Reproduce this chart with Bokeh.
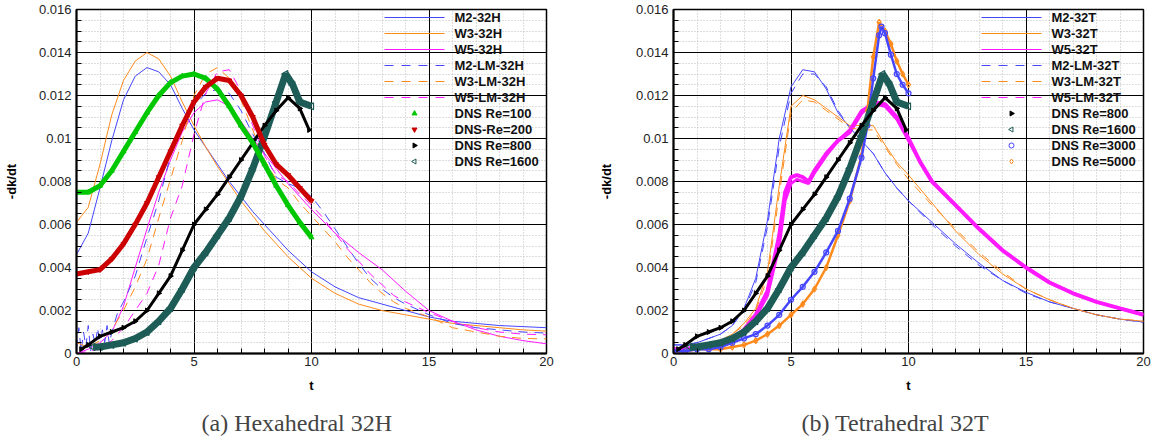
import math
from bokeh.plotting import figure
from bokeh.models import SingleIntervalTicker, PrintfTickFormatter, Title, Range1d
from bokeh.core.properties import value
from bokeh.layouts import row
from bokeh.embed import file_html
from bokeh.resources import INLINE

# ---------------- data : panel (a) Hexahedral 32H ----------------
T_A = [0, 0.5, 1, 1.5, 2, 2.5, 3, 3.5, 4, 4.5, 5, 5.5, 6, 6.5, 7, 7.5, 8, 8.5, 9, 9.5, 10,
       11, 12, 13, 14, 15, 16, 17, 18, 19, 20]
M2_32H = [0.0046, 0.0056, 0.0077, 0.0099, 0.0118, 0.0129, 0.0133, 0.0131, 0.0125, 0.0114, 0.0104,
          0.0096, 0.0088, 0.0080, 0.0073, 0.0066, 0.0060, 0.0054, 0.0048, 0.0043, 0.0038,
          0.0031, 0.0026, 0.0023, 0.0020, 0.0017, 0.0015, 0.0014, 0.0013, 0.00125, 0.0012]
W3_32H = [0.0061, 0.0068, 0.0088, 0.0111, 0.0127, 0.0136, 0.0140, 0.0137, 0.0129, 0.0117, 0.0106,
          0.0096, 0.0087, 0.0079, 0.0071, 0.0064, 0.0057, 0.0051, 0.0045, 0.0040, 0.0035,
          0.0028, 0.0023, 0.0020, 0.0018, 0.0016, 0.0014, 0.0013, 0.0012, 0.0011, 0.00104]
W5_32H = [0.0000, 0.0002, 0.0005, 0.0010, 0.0022, 0.0040, 0.0058, 0.0075, 0.0090, 0.0103, 0.0112,
          0.0117, 0.0118, 0.0115, 0.0108, 0.0100, 0.0093, 0.0086, 0.0079, 0.0073, 0.0067,
          0.0056, 0.0047, 0.0039, 0.0029, 0.0020, 0.0015, 0.0011, 0.0008, 0.0006, 0.00045]

T_M2_LM_H = [0, 0.1, 0.2, 0.3, 0.4, 0.5, 0.6, 0.7, 0.8, 0.9, 1.0, 1.1, 1.2, 1.3, 1.4, 1.5,
             1.75, 2, 2.5, 3, 3.5, 4, 4.5, 5, 5.5, 6, 6.5, 7, 7.5, 8, 8.5, 9, 9.5, 10,
             10.5, 11, 11.5, 12, 12.5, 13, 13.5, 14, 15, 16, 17, 18, 19, 20]
M2_LM_32H = [0.0002, 0.0012, 0.0001, 0.0010, 0.0003, 0.0013, 0.0001, 0.0009, 0.0004, 0.0012,
             0.0002, 0.0011, 0.0005, 0.0013, 0.0004, 0.0010,
             0.0019, 0.0024, 0.0036, 0.0054, 0.0071, 0.0092, 0.0105, 0.0115, 0.0121, 0.0123,
             0.0121, 0.0113, 0.0102, 0.0093, 0.0082, 0.0079, 0.0077, 0.0073,
             0.0066, 0.0058, 0.0050, 0.0042, 0.0035, 0.0030, 0.0026, 0.0023,
             0.0018, 0.0014, 0.0012, 0.0011, 0.0010, 0.00095]
T_LM = [0, 0.5, 1, 1.5, 2, 2.5, 3, 3.5, 4, 4.5, 5, 5.5, 6, 6.5, 7, 7.5, 8, 8.5, 9, 9.5, 10,
        10.5, 11, 11.5, 12, 12.5, 13, 13.5, 14, 15, 16, 17, 18, 19, 20]
W3_LM_32H = [0.0005, 0.0003, 0.0006, 0.0011, 0.0020, 0.0031, 0.0044, 0.0063, 0.0081, 0.0099, 0.0120,
             0.0130, 0.0133, 0.0128, 0.0118, 0.0104, 0.0090, 0.0081, 0.0077, 0.0070, 0.0064,
             0.0058, 0.0052, 0.0045, 0.0039, 0.0033, 0.0028, 0.0024, 0.0021,
             0.0017, 0.0012, 0.0010, 0.0008, 0.0007, 0.00068]
W5_LM_32H = [0.0000, 0.0001, 0.0002, 0.0006, 0.0012, 0.0020, 0.0028, 0.0041, 0.0063, 0.0078, 0.0102,
             0.0121, 0.0131, 0.0132, 0.0122, 0.0106, 0.0092, 0.0083, 0.0080, 0.0074, 0.0069,
             0.0063, 0.0056, 0.0049, 0.0043, 0.0037, 0.0032, 0.0027, 0.0024,
             0.0019, 0.0015, 0.0012, 0.0010, 0.0009, 0.00087]

T_RE_LOW = [0, 0.5, 1, 1.5, 2, 2.5, 3, 3.5, 4, 4.5, 5, 5.5, 6, 6.5, 7, 7.5, 8, 8.5, 9, 9.5, 10]
DNS_RE100 = [0.0075, 0.0075, 0.0078, 0.0085, 0.0094, 0.0103, 0.0112, 0.0120, 0.0126, 0.0129, 0.0130,
             0.0128, 0.0123, 0.0115, 0.0106, 0.0098, 0.0088, 0.0078, 0.0069, 0.0061, 0.0054]
DNS_RE200 = [0.0037, 0.0038, 0.0039, 0.0044, 0.0051, 0.0060, 0.0070, 0.0082, 0.0094, 0.0106, 0.0117,
             0.0124, 0.0128, 0.0127, 0.0120, 0.0110, 0.0097, 0.0088, 0.0083, 0.0077, 0.0071]

T_RE800 = [0.2, 0.5, 1, 1.5, 2, 2.5, 3, 3.5, 4, 4.5, 5, 5.5, 6, 6.5, 7, 7.5, 8, 8.5, 9, 9.5, 9.9]
DNS_RE800 = [0.0002, 0.0004, 0.0008, 0.0010, 0.0012, 0.0015, 0.0020, 0.0028, 0.0036, 0.0048, 0.0060,
             0.0067, 0.0074, 0.0082, 0.0090, 0.0098, 0.0106, 0.0113, 0.0119, 0.0114, 0.0104]
T_RE1600 = [0.7, 1, 1.5, 2, 2.5, 3, 3.5, 4, 4.5, 5, 5.5, 6, 6.5, 7, 7.5, 8, 8.5, 8.9, 9.2, 9.5, 10]
DNS_RE1600 = [0.0003, 0.0003, 0.0004, 0.0005, 0.0007, 0.0010, 0.0015, 0.0021, 0.0030, 0.0040, 0.0047,
              0.0055, 0.0063, 0.0073, 0.0086, 0.0101, 0.0117, 0.0130, 0.0125, 0.0117, 0.0115]

# ---------------- data : panel (b) Tetrahedral 32T ----------------
T_B = T_A
M2_32T = [0.0004, 0.0004, 0.0005, 0.0007, 0.0009, 0.0013, 0.0021, 0.0035, 0.0062, 0.0100, 0.0124,
          0.0132, 0.0131, 0.0123, 0.0112, 0.0105, 0.0099, 0.0093, 0.0084, 0.0077, 0.0071,
          0.0061, 0.0051, 0.0042, 0.0034, 0.00285, 0.0024, 0.0021, 0.0018, 0.0016, 0.00146]
M2_LM_32T = [0.0004, 0.0004, 0.0005, 0.0007, 0.0009, 0.0013, 0.0020, 0.0033, 0.0059, 0.0096, 0.0121,
             0.0130, 0.0130, 0.0124, 0.0113, 0.0105, 0.0099, 0.0093, 0.0084, 0.0077, 0.0071,
             0.0060, 0.0050, 0.0041, 0.0034, 0.0028, 0.0024, 0.0021, 0.0018, 0.0016, 0.00145]
W3_32T = [0.0001, 0.0002, 0.0003, 0.0004, 0.0006, 0.0009, 0.0014, 0.0021, 0.0038, 0.0078, 0.0115,
          0.0120, 0.0118, 0.0114, 0.0110, 0.0106, 0.0106, 0.0106, 0.0097, 0.0089, 0.0083,
          0.0070, 0.0057, 0.0046, 0.0037, 0.0030, 0.0025, 0.0021, 0.0018, 0.0016, 0.0015]
W3_LM_32T = [0.0001, 0.0002, 0.0003, 0.0004, 0.0006, 0.0009, 0.0013, 0.0020, 0.0035, 0.0074, 0.0112,
             0.0118, 0.0117, 0.0113, 0.0109, 0.0105, 0.0104, 0.0104, 0.0096, 0.0088, 0.0081,
             0.0069, 0.0058, 0.0047, 0.0038, 0.0030, 0.0025, 0.0021, 0.0018, 0.0016, 0.0015]
T_W5 = [0, 0.5, 1, 1.5, 2, 2.5, 3, 3.5, 4, 4.5, 4.75, 5, 5.25, 5.5, 5.75, 6, 6.5, 7, 7.5, 8,
        8.5, 9, 9.5, 10, 10.5, 11, 12, 13, 14, 15, 16, 17, 18, 19, 20]
W5_32T = [0.0002, 0.0002, 0.0003, 0.0004, 0.0005, 0.0007, 0.0011, 0.0018, 0.0029, 0.0055,
          0.0075, 0.0082, 0.0083, 0.0082, 0.0080, 0.0085, 0.0093, 0.0099, 0.0103, 0.0112,
          0.0117, 0.0116, 0.0110, 0.0100, 0.0089, 0.0080, 0.0069, 0.0058, 0.0048, 0.0040,
          0.0033, 0.0028, 0.0024, 0.0021, 0.0018]
W5_LM_32T = [0.0002, 0.0002, 0.0003, 0.0004, 0.0005, 0.0007, 0.0011, 0.0017, 0.0027, 0.0050,
             0.0071, 0.0079, 0.0081, 0.0080, 0.0079, 0.0084, 0.0092, 0.0099, 0.0104, 0.0113,
             0.0116, 0.0115, 0.0109, 0.0099, 0.0089, 0.0080, 0.0069, 0.0058, 0.0048, 0.0040,
             0.0033, 0.0028, 0.0024, 0.0021, 0.0018]
T_RE3000 = [0, 0.5, 1, 1.5, 2, 2.5, 3, 3.5, 4, 4.5, 5, 5.5, 6, 6.5, 7, 7.5, 8, 8.25, 8.5, 8.75,
            8.85, 9, 9.25, 9.5, 9.75, 10]
DNS_RE3000 = [0.0001, 0.0001, 0.0002, 0.0002, 0.0003, 0.0005, 0.0007, 0.0009, 0.0013, 0.0018, 0.0025,
              0.0031, 0.0038, 0.0047, 0.0057, 0.0072, 0.0091, 0.0106, 0.0128, 0.0148, 0.0152,
              0.0149, 0.0139, 0.0130, 0.0125, 0.0121]
T_RE5000 = [0, 0.5, 1, 1.5, 2, 2.5, 3, 3.5, 4, 4.5, 5, 5.5, 6, 6.5, 7, 7.5, 8, 8.25, 8.5, 8.75,
            9, 9.25, 9.5, 9.75, 10]
DNS_RE5000 = [0.0001, 0.0001, 0.0002, 0.0002, 0.0002, 0.0003, 0.0004, 0.0006, 0.0009, 0.0013, 0.0018,
              0.0023, 0.0030, 0.0040, 0.0055, 0.0071, 0.0092, 0.0113, 0.0138, 0.0154, 0.0150,
              0.0144, 0.0136, 0.0130, 0.0125]

CAPTIONS = ["(a) Hexahedral 32H", "(b) Tetrahedral 32T"]

BLUE = "#4646ff"
ORANGE = "#ff8a1c"
MAGENTA = "#ff1aff"
GREEN = "#00c800"
RED = "#cc0000"
TEAL = "#1d5c57"
DASH = "9 7"
SANS = "Liberation Sans"

FRAME_W, FRAME_H = 470, 344
LEG_X = 308          # key left edge, pixels from frame left
ROW_H = 16
SOLID_KEY = [(0, 60)]                                   # key sample pieces: (start, end) px
DASHED_KEY = [(0, 9), (17, 26), (34, 43), (51, 60)]


def base_figure(left_border, right_border, ylab_standoff, caption, cap_offset):
    p = figure(x_range=Range1d(0, 20), y_range=Range1d(0, 0.016), output_backend="svg",
               toolbar_location=None, title=None,
               min_border_left=left_border, min_border_right=right_border,
               min_border_top=9, min_border_bottom=89)
    p.frame_width = FRAME_W
    p.frame_height = FRAME_H
    # pixel-unit ranges used only to place the key (legend) entries
    p.extra_x_ranges = {"px": Range1d(0, FRAME_W)}
    p.extra_y_ranges = {"px": Range1d(0, FRAME_H)}
    p.background_fill_color = "white"
    p.border_fill_color = "white"
    p.outline_line_color = "black"
    p.outline_line_width = 1.5
    p.xaxis.ticker = SingleIntervalTicker(interval=5, num_minor_ticks=5)
    p.yaxis.ticker = SingleIntervalTicker(interval=0.002, num_minor_ticks=4)
    for ax in (p.xaxis, p.yaxis):
        ax.formatter = PrintfTickFormatter(format="%g")
        ax.axis_line_width = 2
        ax.axis_line_color = "black"
        ax.major_tick_in = 7
        ax.major_tick_out = 0
        ax.minor_tick_in = 5
        ax.minor_tick_out = 0
        ax.major_tick_line_color = "black"
        ax.minor_tick_line_color = "black"
        ax.major_label_text_font = SANS
        ax.major_label_text_font_size = "13px"
        ax.major_label_text_color = "#222222"
        ax.axis_label_text_font = SANS
        ax.axis_label_text_font_style = "bold"
        ax.axis_label_text_font_size = "13px"
        ax.axis_label_text_color = "black"
    p.xaxis.major_label_standoff = 3
    p.yaxis.major_label_standoff = 5
    p.xaxis.axis_label = "t"
    p.xaxis.axis_label_standoff = 9
    p.yaxis.axis_label = "-dk/dt"
    p.yaxis.axis_label_standoff = ylab_standoff
    for g in (p.xgrid, p.ygrid):
        g.grid_line_color = "black"
        g.grid_line_width = 1
        g.minor_grid_line_color = "#bdbdbd"
        g.minor_grid_line_dash = "1 2"
    p.add_layout(Title(text=caption, align="left", offset=cap_offset, text_font="Liberation Serif",
                       text_font_size="24px", text_font_style="normal", standoff=24), "below")
    return p


def row_y(i):
    return FRAME_H - ROW_H / 2 - ROW_H * i


def key_label(p, i, label):
    p.text(x=[LEG_X + 70], y=[row_y(i)], text=[label], x_range_name="px", y_range_name="px",
           text_font=value(SANS), text_font_style="bold", text_font_size="13px",
           text_color="#111111", text_baseline="middle", text_align="left")


def model_curves(p, specs):
    for i, (label, t, v, color, dashed, band) in enumerate(specs):
        if band:
            p.line(t, v, line_color=color, line_width=band)
        p.line(t, v, line_color=color, line_width=1, line_dash=DASH if dashed else "solid")
    # key: thin filled bars stand in for the line samples
    for i, (label, t, v, color, dashed, band) in enumerate(specs):
        pieces = DASHED_KEY if dashed else SOLID_KEY
        yc = row_y(i)
        p.quad(left=[LEG_X + a for a, b in pieces], right=[LEG_X + b for a, b in pieces],
               bottom=[yc - 0.6] * len(pieces), top=[yc + 0.6] * len(pieces),
               fill_color=color, line_alpha=0, x_range_name="px", y_range_name="px")


def dns(p, i, label, t, v, color, marker, band, size, angle=0.0, hollow=False):
    p.line(t, v, line_color=color, line_width=band)
    fill = None if hollow else color
    p.scatter(t, v, marker=marker, size=size, angle=angle, line_color=color,
              fill_color=fill, line_width=1.2 if hollow else 1)
    p.scatter(x=[LEG_X + 30], y=[row_y(i)], marker=marker, size=5, angle=angle,
              line_color=color, fill_color=fill, line_width=1,
              x_range_name="px", y_range_name="px")


# ---------------- panel (a) ----------------
pa = base_figure(75, 32, 17, CAPTIONS[0], 125)
specs_a = [
    ("M2-32H", T_A, M2_32H, BLUE, False, 0),
    ("W3-32H", T_A, W3_32H, ORANGE, False, 0),
    ("W5-32H", T_A, W5_32H, MAGENTA, False, 0),
    ("M2-LM-32H", T_M2_LM_H, M2_LM_32H, BLUE, True, 0),
    ("W3-LM-32H", T_LM, W3_LM_32H, ORANGE, True, 0),
    ("W5-LM-32H", T_LM, W5_LM_32H, MAGENTA, True, 0),
]
model_curves(pa, specs_a)
dns(pa, 9, "DNS Re=1600", T_RE1600, DNS_RE1600, TEAL, "triangle", 7, 7, angle=math.pi / 2, hollow=True)
dns(pa, 8, "DNS Re=800", T_RE800, DNS_RE800, "black", "triangle", 3, 5, angle=-math.pi / 2)
dns(pa, 6, "DNS Re=100", T_RE_LOW, DNS_RE100, GREEN, "triangle", 5, 5)
dns(pa, 7, "DNS-Re=200", T_RE_LOW, DNS_RE200, RED, "inverted_triangle", 5, 5)
for i, lab in enumerate([s[0] for s in specs_a] +
                        ["DNS Re=100", "DNS-Re=200", "DNS Re=800", "DNS Re=1600"]):
    key_label(pa, i, lab)

# ---------------- panel (b) ----------------
pb = base_figure(95, 15, 19, CAPTIONS[1], 128)
specs_b = [
    ("M2-32T", T_B, M2_32T, BLUE, False, 0),
    ("W3-32T", T_B, W3_32T, ORANGE, False, 0),
    ("W5-32T", T_W5, W5_32T, MAGENTA, False, 4),
    ("M2-LM-32T", T_B, M2_LM_32T, BLUE, True, 0),
    ("W3-LM-32T", T_B, W3_LM_32T, ORANGE, True, 0),
    ("W5-LM-32T", T_W5, W5_LM_32T, MAGENTA, True, 3),
]
model_curves(pb, specs_b)
dns(pb, 9, "DNS Re=5000", T_RE5000, DNS_RE5000, ORANGE, "diamond", 2.5, 6, hollow=True)
dns(pb, 8, "DNS Re=3000", T_RE3000, DNS_RE3000, BLUE, "circle", 2.5, 5, hollow=True)
dns(pb, 7, "DNS Re=1600", T_RE1600, DNS_RE1600, TEAL, "triangle", 7, 7, angle=math.pi / 2, hollow=True)
dns(pb, 6, "DNS Re=800", T_RE800, DNS_RE800, "black", "triangle", 3, 5, angle=-math.pi / 2)
for i, lab in enumerate([s[0] for s in specs_b] +
                        ["DNS Re=800", "DNS Re=1600", "DNS Re=3000", "DNS Re=5000"]):
    key_label(pb, i, lab)

layout = row(pa, pb)
open("out.html", "w").write(file_html(layout, INLINE))
